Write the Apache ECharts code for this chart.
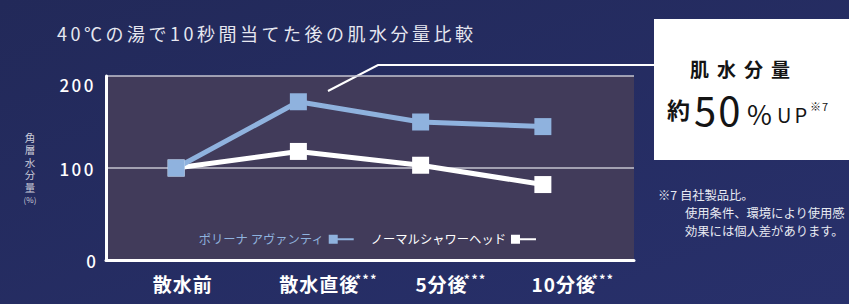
<!DOCTYPE html>
<html>
<head>
<meta charset="utf-8">
<script src="https://cdn.jsdelivr.net/npm/echarts@6/dist/echarts.min.js"></script>
<style>
  html, body { margin: 0; padding: 0; }
  #main { width: 849px; height: 304px; }
</style>
</head>
<body>
<div id="main"></div>
<script>
const categories = ["散水前", "散水直後", "5分後", "10分後"];
const stars = ["", "***", "***", "***"];
const seriesNames = ["ポリーナ アヴァンティ", "ノーマルシャワーヘッド"];
const avantiValues = [100, 172, 150, 145];
const normalValues = [100, 118, 103, 82];

const font = "'Noto Sans CJK JP', 'Noto Sans', sans-serif";
const blue = "#8fb2de";

// spacing for texts that look tracked out in the picture
const spacing = {
  "40℃の湯で10秒間当てた後の肌水分量比較": 3.5,
  "肌水分量": 8,
  "50": 2,
  "UP": 3,
  "***": 1.5,
  "200": 2.5,
  "100": 2.5,
  "散水前": 1,
  "散水直後": 1,
  "5分後": 1,
  "10分後": 1,
  "※7": 1,
};

var chartDom = document.getElementById("main");
var myChart = echarts.init(chartDom, null, { renderer: "svg" });

var option = {
  animation: false,
  backgroundColor: {
    type: "linear",
    x: 0, y: 0, x2: 1, y2: 1,
    colorStops: [
      { offset: 0, color: "#222959" },
      { offset: 1, color: "#28306b" },
    ],
  },
  textStyle: { fontFamily: font },
  grid: [
    // panel
    { left: 106, right: 215, top: 76, bottom: 44, show: true, backgroundColor: "#413b5a", borderWidth: 0 },
    // data
    { left: 115, right: 245, top: 76, bottom: 44 },
  ],
  xAxis: [
    {
      gridIndex: 0,
      type: "value",
      min: 0,
      max: 1,
      axisLine: { show: true, lineStyle: { color: "#ffffff", width: 3 } },
      axisTick: { show: false },
      axisLabel: { show: false },
      splitLine: { show: false },
    },
    {
      gridIndex: 1,
      type: "category",
      data: categories,
      boundaryGap: true,
      axisLine: { show: false },
      axisTick: { show: false },
      axisLabel: {
        interval: 0,
        hideOverlap: false,
        margin: 12,
        formatter: function (value, index) {
          if (index === 0) return "{a|" + value + "}";
          return "{b|" + value + "}{s|" + stars[index] + "}";
        },
        rich: {
          a: { fontSize: 19, fontWeight: "bold", color: "#ffffff", lineHeight: 22, padding: [0, 0, 0, 13], fontFamily: font },
          b: { fontSize: 19, fontWeight: "bold", color: "#ffffff", lineHeight: 22, padding: [0, 0, 0, 60], fontFamily: font },
          s: { fontSize: 12, fontWeight: "bold", color: "#ffffff", lineHeight: 12, verticalAlign: "top", fontFamily: font },
        },
      },
    },
  ],
  yAxis: [
    {
      gridIndex: 0,
      type: "value",
      min: 0,
      max: 200,
      interval: 100,
      axisLine: { show: true, lineStyle: { color: "#ffffff", width: 3 } },
      axisTick: { show: false },
      splitLine: { show: true, lineStyle: { color: "#c4c4d0", width: 1.5 } },
      axisLabel: {
        margin: 10,
        color: "#ffffff",
        fontSize: 17,
        fontWeight: 500,
        fontFamily: font,
        formatter: function (v) {
          return v === 200 ? "{t|" + v + "}" : String(v);
        },
        rich: {
          t: { color: "#ffffff", fontSize: 17, fontWeight: 500, padding: [16, 0, 0, 0], fontFamily: font },
        },
      },
    },
    { gridIndex: 1, type: "value", min: 0, max: 200, show: false },
  ],
  legend: {
    left: 193,
    top: 228,
    align: "right",
    itemGap: 17,
    itemWidth: 25,
    itemHeight: 9,
    icon: "path://M0,0H9V9H0Z M9,3.5H25V5.5H9Z",
    textStyle: { fontSize: 12.3, fontFamily: font },
    data: [
      { name: seriesNames[0], textStyle: { color: blue } },
      { name: seriesNames[1], textStyle: { color: "#ffffff" } },
    ],
  },
  series: [
    {
      name: seriesNames[1],
      type: "line",
      xAxisIndex: 1,
      yAxisIndex: 1,
      data: normalValues,
      symbol: "rect",
      symbolSize: 17,
      itemStyle: { color: "#ffffff" },
      lineStyle: { color: "#ffffff", width: 5 },
    },
    {
      name: seriesNames[0],
      type: "line",
      xAxisIndex: 1,
      yAxisIndex: 1,
      data: avantiValues,
      symbol: "rect",
      symbolSize: 17,
      itemStyle: { color: blue },
      lineStyle: { color: blue, width: 5 },
    },
  ],
  graphic: [
    {
      type: "text", x: 57, y: 33,
      style: { text: "40℃の湯で10秒間当てた後の肌水分量比較", fill: "#e6e7f0", fontSize: 18, fontFamily: font, verticalAlign: "middle" },
    },
    {
      type: "text", x: 30, y: 131,
      style: { text: "角\n層\n水\n分\n量", fill: "#c9cad8", fontSize: 10.5, lineHeight: 12.5, align: "center", fontFamily: font },
    },
    {
      type: "text", x: 30, y: 199,
      style: { text: "(%)", fill: "#c9cad8", fontSize: 8, align: "center", verticalAlign: "middle", fontFamily: font },
    },
    {
      type: "polyline",
      shape: { points: [[328, 91], [378, 65], [654, 65]] },
      style: { stroke: "#ffffff", lineWidth: 2, fill: null },
    },
    {
      type: "rect",
      shape: { x: 654, y: 19, width: 200, height: 141 },
      style: { fill: "#ffffff" },
    },
    {
      type: "text", x: 690, y: 68,
      style: { text: "肌水分量", fill: "#141414", fontSize: 19, fontWeight: "bold", fontFamily: font, verticalAlign: "middle" },
    },
    {
      type: "text", x: 667, y: 109,
      style: { text: "約", fill: "#141414", fontSize: 23, fontWeight: "bold", fontFamily: font, verticalAlign: "middle" },
    },
    {
      type: "text", x: 694, y: 109,
      style: { text: "50", fill: "#141414", fontSize: 40, fontFamily: font, verticalAlign: "middle" },
    },
    {
      type: "text", x: 747, y: 113,
      style: { text: "%", fill: "#141414", fontSize: 27, fontFamily: font, verticalAlign: "middle" },
    },
    {
      type: "text", x: 777, y: 114,
      style: { text: "UP", fill: "#141414", fontSize: 20, fontFamily: font, verticalAlign: "middle" },
    },
    {
      type: "text", x: 810, y: 106,
      style: { text: "※7", fill: "#141414", fontSize: 11, fontFamily: font, verticalAlign: "middle" },
    },
    {
      type: "text", x: 658, y: 195,
      style: { text: "※7 自社製品比。", fill: "#e8eaf2", fontSize: 12.3, fontFamily: font, verticalAlign: "middle" },
    },
    {
      type: "text", x: 685, y: 213,
      style: { text: "使用条件、環境により使用感", fill: "#e8eaf2", fontSize: 12.3, fontFamily: font, verticalAlign: "middle" },
    },
    {
      type: "text", x: 685, y: 231,
      style: { text: "効果には個人差があります。", fill: "#e8eaf2", fontSize: 12.3, fontFamily: font, verticalAlign: "middle" },
    },
  ],
};

option && myChart.setOption(option);

function applySpacing() {
  chartDom.querySelectorAll("text").forEach(function (t) {
    var s = t.textContent;
    if (spacing[s] != null) t.style.letterSpacing = spacing[s] + "px";
  });
}
myChart.on("finished", applySpacing);
applySpacing();
setTimeout(applySpacing, 50);
</script>
</body>
</html>
